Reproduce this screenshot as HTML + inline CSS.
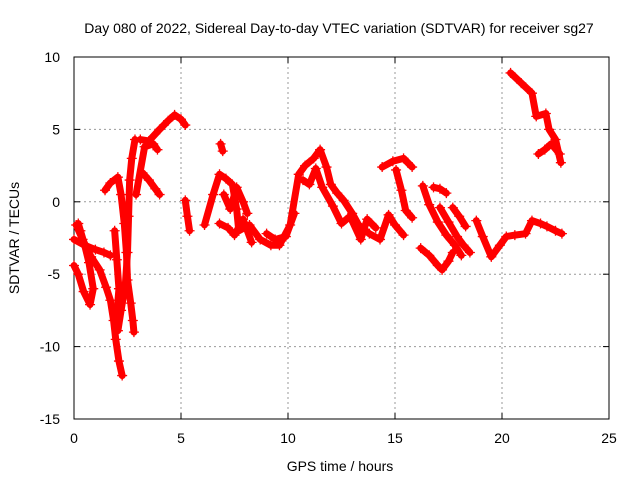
<!DOCTYPE html>
<html><head><meta charset="utf-8"><style>
body{margin:0;background:#fff}
svg{display:block;font-family:"Liberation Sans",Arial,sans-serif}
</style></head><body>
<svg id="chart" width="640" height="480" viewBox="0 0 640 480" xmlns="http://www.w3.org/2000/svg">
<text x="339" y="33" font-size="14" text-anchor="middle">Day 080 of 2022, Sidereal Day-to-day VTEC variation (SDTVAR) for receiver sg27</text>
<text x="340" y="471" font-size="14" text-anchor="middle">GPS time / hours</text>
<text transform="translate(19,238) rotate(-90)" font-size="14" text-anchor="middle">SDTVAR / TECUs</text>
<g id="grid"></g>
<g id="axes"></g>
<g id="marks"></g>
</svg>
<script>
const xTicks=[0,5,10,15,20,25];
const yTicks=[10,5,0,-5,-10,-15];
// each trace: [hour, SDTVAR]
const traceA=[[0.1,-1.6],[0.4,-2.6],[0.8,-3.8],[1.2,-4.7],[1.5,-5.9],[1.7,-6.8],[1.85,-8.2],[1.95,-9.5],[2.1,-11.0],[2.25,-12.0]];
const traceB=[[0,-4.4],[0.2,-5.0],[0.45,-6.2],[0.75,-7.1],[0.9,-6.0],[0.7,-4.2],[0.5,-3.0],[0.3,-2.0],[0.2,-1.5]];
const traceC=[[0,-2.6],[0.5,-3.0],[1.0,-3.3],[1.4,-3.5],[1.7,-3.7]];
const traceD=[[1.45,0.8],[1.7,1.3],[2.05,1.7],[2.2,0.5],[2.35,-1.5],[2.45,-3.5],[2.5,-5.4],[2.65,-7.0],[2.75,-8.2],[2.8,-9.0]];
const traceE=[[2.05,-8.9],[2.2,-7.5],[2.4,-5.7],[2.5,-3.5],[2.55,-1.0],[2.6,1.5],[2.7,3.0],[2.85,4.3]];
const traceF=[[3.1,4.3],[3.5,4.2],[4.0,5.0],[4.4,5.6],[4.7,6.0],[5.0,5.7],[5.2,5.3]];
const traceG=[[3.2,2.0],[3.5,1.5],[3.8,0.9],[4.0,0.5]];
const traceH=[[5.2,0.1],[5.3,-1.0],[5.4,-2.0]];
const traceI=[[6.1,-1.6],[6.5,0.5],[6.8,1.9],[7.1,1.6],[7.4,1.2],[7.6,-0.5],[7.7,-2.0],[8.2,-1.6],[8.7,-2.6],[9.2,-3.0],[9.6,-3.0],[10.1,-1.6],[10.5,1.9],[10.8,2.5],[11.2,3.0],[11.5,3.6],[11.8,2.4],[12.0,1.2],[12.3,0.6],[12.6,0.1],[13.0,-0.8],[13.3,-1.6],[13.8,-2.2],[14.3,-2.6],[14.7,-0.9],[15.0,-1.6],[15.4,-2.3]];
const traceJ=[[6.8,-1.5],[7.2,-1.8],[7.5,-2.3],[7.9,-1.2],[8.3,-2.8]];
const traceK=[[6.85,4.0],[6.95,3.5]];
const traceL=[[14.4,2.4],[14.9,2.8],[15.4,3.0],[15.8,2.4]];
const traceM=[[15.05,2.2],[15.3,0.8],[15.5,-0.6],[15.8,-1.1]];
const traceN=[[16.3,1.1],[16.6,-0.2],[17.0,-1.4],[17.4,-2.3],[17.8,-3.0],[18.1,-3.7]];
const traceO=[[16.2,-3.2],[16.6,-3.7],[17.0,-4.4],[17.2,-4.7],[17.5,-4.1],[17.7,-3.5]];
const traceP=[[16.8,1.0],[17.1,0.9],[17.4,0.6]];
const traceQ=[[17.1,-0.4],[17.5,-1.4],[17.9,-2.4],[18.2,-3.0],[18.5,-3.5]];
const traceR=[[17.7,-0.4],[18.0,-1.0],[18.3,-1.7]];
const traceS=[[18.8,-1.3],[19.1,-2.4],[19.5,-3.8],[19.9,-3.0],[20.2,-2.4],[20.6,-2.3],[21.1,-2.2],[21.4,-1.3],[21.8,-1.5],[22.1,-1.7],[22.5,-2.0],[22.8,-2.2]];
const traceT=[[20.4,8.9],[20.9,8.2],[21.4,7.5],[21.6,5.9],[22.05,6.1],[22.2,5.0],[22.5,4.3],[22.75,2.7]];
const traceU=[[21.7,3.3],[22.0,3.6],[22.3,4.0],[22.7,3.3]];
const traceV=[[7.0,0.5],[7.3,-0.5],[7.6,1.0],[7.9,0.0],[8.1,-0.8]];
const traceW=[[10.7,1.5],[11.0,1.2],[11.3,2.3],[11.6,1.0],[12.1,-0.3],[12.5,-1.5],[12.9,-1.0],[13.4,-2.6],[13.7,-1.2],[14.1,-1.8]];
const traceX=[[9.0,-2.2],[9.4,-2.6],[9.9,-2.4],[10.3,-0.8]];
const traceY=[[2.9,0.5],[3.3,3.8],[3.7,4.0],[3.9,3.6]];
const traceZ=[[1.9,-2.0],[2.0,-4.0],[2.1,-6.0],[2.0,-7.8]];
const traces=[traceA,traceB,traceC,traceD,traceE,traceF,traceG,traceH,traceI,traceJ,traceK,traceL,traceM,traceN,traceO,traceP,traceQ,traceR,traceS,traceT,traceU,traceV,traceW,traceX,traceY,traceZ];

const X0=74,X1=609,Y0=57,Y1=419;
const sx=t=>X0+(t-0)/(25-0)*(X1-X0);
const sy=v=>Y0+(10-v)/(10-(-15))*(Y1-Y0);
const NS="http://www.w3.org/2000/svg";
const grid=document.getElementById('grid'),axes=document.getElementById('axes'),marks=document.getElementById('marks');
function mk(tag,attrs,parent){const e=document.createElementNS(NS,tag);for(const k in attrs)e.setAttribute(k,attrs[k]);parent.appendChild(e);return e;}
xTicks.forEach(t=>{
  if(t>0&&t<25){const g=mk('line',{x1:sx(t),x2:sx(t),y1:Y0,y2:Y1,stroke:'#999','stroke-dasharray':'2,3'},grid);
  
  }
  const tk=mk('line',{x1:sx(t),x2:sx(t),y1:Y1,y2:Y1-6,stroke:'#000'},axes);
  
  
  const tk2=mk('line',{x1:sx(t),x2:sx(t),y1:Y0,y2:Y0+6,stroke:'#000'},axes);
  
  
  const l=mk('text',{x:sx(t),y:Y1+24,'font-size':14,'text-anchor':'middle'},axes);l.textContent=t;
  
  
});
yTicks.forEach(v=>{
  if(v>-15&&v<10){const g=mk('line',{x1:X0,x2:X1,y1:sy(v),y2:sy(v),stroke:'#999','stroke-dasharray':'2,3'},grid);
  
  }
  const tk=mk('line',{x1:X0,x2:X0+6,y1:sy(v),y2:sy(v),stroke:'#000'},axes);
  
  
  const tk2=mk('line',{x1:X1,x2:X1-6,y1:sy(v),y2:sy(v),stroke:'#000'},axes);
  
  
  const l=mk('text',{x:X0-14,y:sy(v)+5,'font-size':14,'text-anchor':'end'},axes);l.textContent=v;
  
  
});
const border=mk('rect',{x:X0,y:Y0,width:X1-X0,height:Y1-Y0,fill:'none',stroke:'#000'},axes);


traces.forEach(tr=>{
  const p=mk('polyline',{points:tr.map(d=>sx(d[0])+','+sy(d[1])).join(' '),fill:'none',stroke:'#f00','stroke-width':7,'stroke-linejoin':'round','stroke-linecap':'round'},marks);
  
  
  tr.forEach(d=>{
    const x=sx(d[0]),y=sy(d[1]);
    const m=mk('path',{d:`M${x-5},${y}h10M${x},${y-5}v10`,stroke:'#f00','stroke-width':1.3},marks);
    
    
  });
});
</script>
</body></html>
